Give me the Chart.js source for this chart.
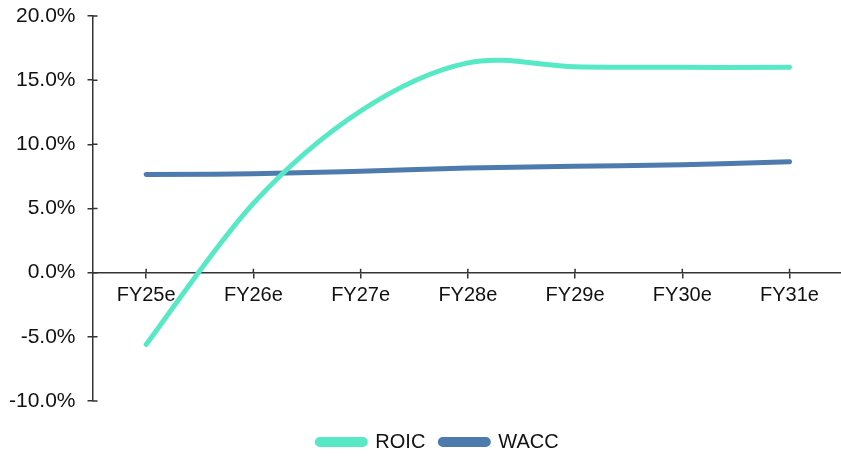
<!DOCTYPE html>
<html>
<head>
<meta charset="utf-8">
<script src="https://cdn.jsdelivr.net/npm/chart.js@4/dist/chart.umd.min.js"></script>
<style>
  html, body { margin: 0; padding: 0; background: #fff; }
  #wrap { width: 841px; height: 457px; }
</style>
</head>
<body>
<div id="wrap"><canvas id="myLineChart"></canvas></div>
<script>
const years = ['FY25e', 'FY26e', 'FY27e', 'FY28e', 'FY29e', 'FY30e', 'FY31e'];
const roic = [-5.6, 5.4, 12.6, 16.35, 16.05, 16.0, 16.0];
const wacc = [7.65, 7.7, 7.9, 8.15, 8.3, 8.4, 8.65];
const yTicks = [-10, -5, 0, 5, 10, 15, 20];

const axisColor = '#333';

// Excel draws ticks across the axis line and smooths with plain catmull-rom,
// so patch those bits in here
const excelLook = {
    id: 'excelLook',
    afterLayout(chart) {
        chart.legend.left += 19;
        chart.legend.right += 19;
        chart.legend.top += 16;
        chart.legend.bottom += 16;
    },
    beforeDatasetDraw(chart, args) {
        const meta = args.meta;
        meta.dataset.updateControlPoints(chart.chartArea, 'x');
        const pts = meta.data;
        pts.forEach((p, i) => {
            const prev = pts[i - 1] || p;
            const next = pts[i + 1] || p;
            const dx = (next.x - prev.x) / 6, dy = (next.y - prev.y) / 6;
            p.cp1x = p.x - dx; p.cp1y = p.y - dy;
            p.cp2x = p.x + dx; p.cp2y = p.y + dy;
        });
    },
    afterDraw(chart) {
        const ctx = chart.ctx;
        const x = chart.scales.x, y = chart.scales.y;
        ctx.save();
        ctx.strokeStyle = axisColor;
        ctx.lineWidth = 1.5;
        ctx.beginPath();
        y.ticks.forEach(t => {
            const py = y.getPixelForValue(t.value);
            ctx.moveTo(y.right, py);
            ctx.lineTo(y.right + 5, py);
        });
        const zero = y.getPixelForValue(0);
        x.ticks.forEach(t => {
            const px = x.getPixelForValue(t.value);
            ctx.moveTo(px, zero);
            ctx.lineTo(px, zero - 4);
        });
        ctx.stroke();
        ctx.restore();
    }
};

const toPoints = arr => arr.map((v, i) => ({x: i, y: v}));

new Chart(document.getElementById('myLineChart'), {
    type: 'line',
    data: {
        datasets: [{
            label: 'ROIC',
            data: toPoints(roic),
            borderColor: '#57E9C5',
            backgroundColor: '#57E9C5',
            borderWidth: 5,
            borderCapStyle: 'round',
            pointRadius: 0,
            tension: 0.4
        }, {
            label: 'WACC',
            data: toPoints(wacc),
            borderColor: '#4E7BAD',
            backgroundColor: '#4E7BAD',
            borderWidth: 5,
            borderCapStyle: 'round',
            pointRadius: 0,
            tension: 0.4
        }]
    },
    options: {
        responsive: true,
        maintainAspectRatio: false,
        animation: false,
        layout: { padding: { top: 16, left: -3, right: 0, bottom: 11 } },
        plugins: {
            tooltip: { enabled: false },
            legend: {
                position: 'bottom',
                maxHeight: 53,
                labels: {
                    color: '#111',
                    font: { family: 'Liberation Sans', size: 20 },
                    boxWidth: 48,
                    boxHeight: 5,
                    useBorderRadius: true,
                    borderRadius: 2.5,
                    padding: 15
                }
            }
        },
        scales: {
            x: {
                type: 'linear',
                position: { y: 0 },
                min: -0.5,
                max: 6.48,
                afterBuildTicks: scale => {
                    scale.ticks = years.map((_, i) => ({value: i}));
                },
                afterFit: scale => {
                    scale.paddingLeft = 0;
                    scale.paddingRight = 0;
                },
                ticks: {
                    color: '#111',
                    font: { family: 'Liberation Sans', size: 20 },
                    padding: 6,
                    autoSkip: false,
                    maxRotation: 0,
                    callback: v => years[v]
                },
                grid: { drawOnChartArea: false, drawTicks: true, tickLength: 5, color: axisColor, lineWidth: 1.5 },
                border: { color: axisColor, width: 1.5 }
            },
            y: {
                min: -10,
                max: 20,
                afterBuildTicks: scale => {
                    scale.ticks = yTicks.map(v => ({value: v}));
                },
                afterFit: scale => {
                    scale.paddingTop = 0;
                    scale.paddingBottom = 0;
                },
                ticks: {
                    color: '#111',
                    font: { family: 'Liberation Sans', size: 21 },
                    padding: 12,
                    callback: v => v.toFixed(1) + '%'
                },
                grid: { drawOnChartArea: false, drawTicks: true, tickLength: 5, color: axisColor, lineWidth: 1.5 },
                border: { color: axisColor, width: 1.5 }
            }
        }
    },
    plugins: [excelLook]
});
</script>
</body>
</html>
